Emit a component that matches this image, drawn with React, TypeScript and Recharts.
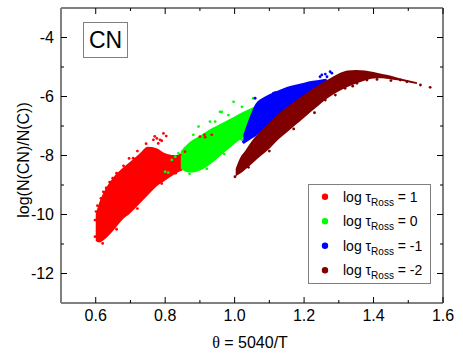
import { Area, ComposedChart, Legend, Scatter, XAxis, YAxis } from "recharts";

// log tau_Ross levels and colours
const LEVELS = ["1", "0", "-1", "-2"];
const COLORS = ["#ff0000", "#00ff00", "#0000ff", "#800000"];

const X_TICKS = [0.6, 0.7, 0.8, 0.9, 1.0, 1.1, 1.2, 1.3, 1.4, 1.5, 1.6];
const Y_TICKS = [-12, -11, -10, -9, -8, -7, -6, -5, -4];

// dense cores of each cloud: theta, lower and upper log(N(CN)/N(C))
const RED_X = [0.6, 0.61, 0.625, 0.65, 0.675, 0.7, 0.725, 0.75, 0.775, 0.8, 0.825, 0.85, 0.87];
const RED_LO = [-10.9, -10.95, -10.85, -10.55, -10.2, -9.95, -9.65, -9.35, -9.05, -8.85, -8.65, -8.5, -8.42];
const RED_HI = [-10.0, -9.6, -9.2, -8.75, -8.45, -8.2, -7.95, -7.7, -7.75, -7.92, -7.98, -7.98, -8.02];

const GREEN_X = [0.845, 0.87, 0.89, 0.91, 0.93, 0.95, 0.975, 1.0, 1.025, 1.05, 1.075, 1.1];
const GREEN_LO = [-8.45, -8.58, -8.55, -8.45, -8.3, -8.1, -7.85, -7.6, -7.38, -7.15, -6.9, -6.6];
const GREEN_HI = [-7.85, -7.55, -7.4, -7.25, -7.1, -6.98, -6.83, -6.68, -6.52, -6.38, -6.25, -6.12];

const BLUE_X = [1.025, 1.04, 1.06, 1.08, 1.1, 1.125, 1.15, 1.175, 1.2, 1.225, 1.25, 1.265];
const BLUE_LO = [-7.62, -7.5, -7.35, -7.15, -6.95, -6.75, -6.5, -6.3, -6.1, -5.9, -5.72, -5.6];
const BLUE_HI = [-7.3, -6.8, -6.25, -6.05, -5.92, -5.8, -5.68, -5.6, -5.53, -5.47, -5.42, -5.4];

const MAROON_X = [1.003, 1.015, 1.03, 1.05, 1.075, 1.1, 1.125, 1.15, 1.175, 1.2, 1.225, 1.25, 1.275, 1.3, 1.325, 1.35, 1.375, 1.4, 1.425, 1.45, 1.475, 1.5, 1.525];
const MAROON_LO = [-8.7, -8.62, -8.48, -8.28, -8.02, -7.77, -7.47, -7.22, -6.97, -6.72, -6.47, -6.22, -6.0, -5.82, -5.68, -5.56, -5.46, -5.39, -5.38, -5.42, -5.46, -5.52, -5.58];
const MAROON_HI = [-8.45, -8.1, -7.85, -7.5, -7.17, -6.88, -6.6, -6.36, -6.14, -5.94, -5.74, -5.55, -5.38, -5.22, -5.12, -5.1, -5.12, -5.17, -5.24, -5.3, -5.38, -5.45, -5.52];

// scattered points outside the cores
const RED_OUT_X = [0.803, 0.78, 0.766, 0.737, 0.708, 0.649, 0.622, 0.601, 0.598, 0.598, 0.79, 0.696, 0.785, 0.776, 0.9, 0.913, 0.857, 0.843, 0.915, 0.934, 0.605, 0.615, 0.63, 0.64, 0.66, 0.68, 0.72, 0.745, 0.77, 0.795, 0.62, 0.66, 0.72, 0.79, 0.83];
const RED_OUT_Y = [-7.34, -7.59, -7.47, -7.98, -8.09, -8.77, -9.23, -9.9, -10.19, -10.75, -7.5, -8.1, -7.47, -7.42, -7.36, -7.3, -7.87, -7.98, -7.38, -7.3, -9.7, -9.45, -9.1, -8.9, -8.6, -8.35, -7.85, -7.6, -7.35, -7.25, -10.98, -10.5, -9.8, -8.95, -8.6];

const GREEN_OUT_X = [0.997, 0.963, 0.982, 0.944, 0.896, 0.881, 0.857, 0.838, 1.021, 0.8, 0.809, 0.829, 0.819, 0.958, 0.929, 1.054, 0.87, 0.92, 0.97, 1.02];
const GREEN_OUT_Y = [-6.18, -6.52, -6.63, -6.85, -7.02, -7.3, -7.76, -7.93, -6.35, -8.55, -8.58, -8.04, -8.15, -6.52, -6.85, -6.06, -8.62, -8.45, -7.95, -7.45];

const BLUE_OUT_X = [1.059, 1.117, 1.112, 1.246, 1.261, 1.275, 1.025, 1.035, 1.251, 1.266, 1.28];
const BLUE_OUT_Y = [-6.06, -5.87, -5.89, -5.33, -5.24, -5.16, -7.53, -7.42, -5.27, -5.33, -5.21];

const MAROON_OUT_X = [1.001, 1.011, 1.563, 1.535, 1.496, 1.477, 1.381, 1.352, 1.318, 1.261, 1.04, 1.1, 1.17, 1.23, 1.29, 1.34, 1.41, 1.45];
const MAROON_OUT_Y = [-8.72, -8.55, -5.69, -5.61, -5.5, -5.44, -5.44, -5.55, -5.72, -6.12, -8.4, -7.85, -7.1, -6.55, -5.95, -5.65, -5.42, -5.46];

const band = (xs: number[], lo: number[], hi: number[]) =>
  xs.map((x, i) => ({ x, range: [lo[i], hi[i]] }));
const pts = (xs: number[], ys: number[]) => xs.map((x, i) => ({ x, y: ys[i] }));

const BANDS = [
  band(RED_X, RED_LO, RED_HI),
  band(GREEN_X, GREEN_LO, GREEN_HI),
  band(BLUE_X, BLUE_LO, BLUE_HI),
  band(MAROON_X, MAROON_LO, MAROON_HI),
];
const OUTLIERS = [
  pts(RED_OUT_X, RED_OUT_Y),
  pts(GREEN_OUT_X, GREEN_OUT_Y),
  pts(BLUE_OUT_X, BLUE_OUT_Y),
  pts(MAROON_OUT_X, MAROON_OUT_Y),
];

const FONT = "'Liberation Sans', Arial, sans-serif";
const FRAME = { stroke: "#808080", strokeWidth: 2 };

const isMajorX = (v: number) => Math.round(v * 10) % 2 === 0;
const isMajorY = (v: number) => Math.abs(Math.round(v)) % 2 === 0;

function BottomTick({ x, y, payload }: any) {
  const v = payload.value;
  const axisY = y - 7;
  return (
    <g>
      <line x1={x} x2={x} y1={axisY} y2={axisY - (isMajorX(v) ? 6 : 3)} stroke="#000" />
      {isMajorX(v) && (
        <text x={x} y={y} dy="0.71em" textAnchor="middle" fontSize={16} fontFamily={FONT} fill="#000">
          {v.toFixed(1)}
        </text>
      )}
    </g>
  );
}

function TopTick({ x, y, payload }: any) {
  return <line x1={x} x2={x} y1={y} y2={y + (isMajorX(payload.value) ? 6 : 3)} stroke="#000" />;
}

function LeftTick({ x, y, payload }: any) {
  const v = payload.value;
  const axisX = x + 7;
  return (
    <g>
      <line x1={axisX} x2={axisX + (isMajorY(v) ? 6 : 3)} y1={y} y2={y} stroke="#000" />
      {isMajorY(v) && (
        <text x={x} y={y} dy="0.355em" textAnchor="end" fontSize={16} fontFamily={FONT} fill="#000">
          {String(v)}
        </text>
      )}
    </g>
  );
}

function RightTick({ x, y, payload }: any) {
  return <line x1={x} x2={x - (isMajorY(payload.value) ? 6 : 3)} y1={y} y2={y} stroke="#000" />;
}

const dot = (p: any) => <circle cx={p.cx} cy={p.cy} r={1.4} fill={p.fill} />;

function LegendBox() {
  return (
    <svg width={124} height={101} style={{ display: "block" }}>
      <rect x={0.5} y={0.5} width={122} height={99} fill="#fff" stroke="#808080" />
      {LEVELS.map((lvl, i) => {
        const cy = 12.7 + i * 24.5;
        return (
          <g key={lvl}>
            <circle cx={17} cy={cy} r={3.2} fill={COLORS[i]} />
            <text x={35} y={cy + 5} fontSize={14} fontFamily={FONT} fill="#000">
              log τ
              <tspan fontSize={10} dy={4}>Ross</tspan>
              <tspan dy={-4}>{` = ${lvl}`}</tspan>
            </text>
          </g>
        );
      })}
    </svg>
  );
}

export default function App() {
  return (
    <div style={{ position: "absolute", left: 0, top: 0, background: "#fff" }}>
      <ComposedChart width={463} height={358} margin={{ top: 7, right: 19, bottom: 0, left: 0 }}>
        <XAxis
          xAxisId="b"
          type="number"
          dataKey="x"
          domain={[0.5, 1.6]}
          ticks={X_TICKS}
          allowDataOverflow
          height={55}
          tickSize={0}
          tickMargin={7}
          tickLine={false}
          axisLine={FRAME}
          tick={<BottomTick />}
        />
        <XAxis
          xAxisId="t"
          orientation="top"
          type="number"
          dataKey="x"
          domain={[0.5, 1.6]}
          ticks={X_TICKS}
          allowDataOverflow
          height={1}
          tickSize={0}
          tickMargin={0}
          tickLine={false}
          axisLine={FRAME}
          tick={<TopTick />}
        />
        <YAxis
          yAxisId="l"
          type="number"
          dataKey="y"
          domain={[-13, -3]}
          ticks={Y_TICKS}
          allowDataOverflow
          width={61}
          tickSize={0}
          tickMargin={7}
          tickLine={false}
          axisLine={FRAME}
          tick={<LeftTick />}
        />
        <YAxis
          yAxisId="r"
          orientation="right"
          type="number"
          dataKey="y"
          domain={[-13, -3]}
          ticks={Y_TICKS}
          allowDataOverflow
          width={1}
          tickSize={0}
          tickMargin={0}
          tickLine={false}
          axisLine={FRAME}
          tick={<RightTick />}
        />
        {BANDS.map((d, i) => (
          <Area
            key={`a${i}`}
            xAxisId="b"
            yAxisId="l"
            data={d}
            dataKey="range"
            type="monotone"
            stroke="none"
            fill={COLORS[i]}
            fillOpacity={1}
            dot={false}
            activeDot={false}
            legendType="none"
            isAnimationActive={false}
          />
        ))}
        {OUTLIERS.map((d, i) => (
          <Scatter
            key={`s${i}`}
            xAxisId="b"
            yAxisId="l"
            data={d}
            dataKey="y"
            name={`log tau = ${LEVELS[i]}`}
            fill={COLORS[i]}
            shape={dot}
            isAnimationActive={false}
          />
        ))}
        <Legend
          layout="vertical"
          align="center"
          verticalAlign="middle"
          wrapperStyle={{ left: 308, top: 184, width: 124, height: 101 }}
          content={() => <LegendBox />}
        />
        <g>
          <rect x={83.5} y={22.5} width={44} height={35} fill="#fff" stroke="#808080" />
          <text x={105.5} y={48.3} textAnchor="middle" fontSize={23} fontFamily={FONT} fill="#000">
            CN
          </text>
        </g>
        <text x={250} y={348} textAnchor="middle" fontSize={16} fontFamily={FONT} fill="#000">
          <tspan fontFamily="'Liberation Serif', serif">θ</tspan> = 5040/T
        </text>
        <text
          transform="translate(29,160) rotate(-90)"
          textAnchor="middle"
          fontSize={16}
          fontFamily={FONT}
          fill="#000"
        >
          log(N(CN)/N(C))
        </text>
      </ComposedChart>
    </div>
  );
}
